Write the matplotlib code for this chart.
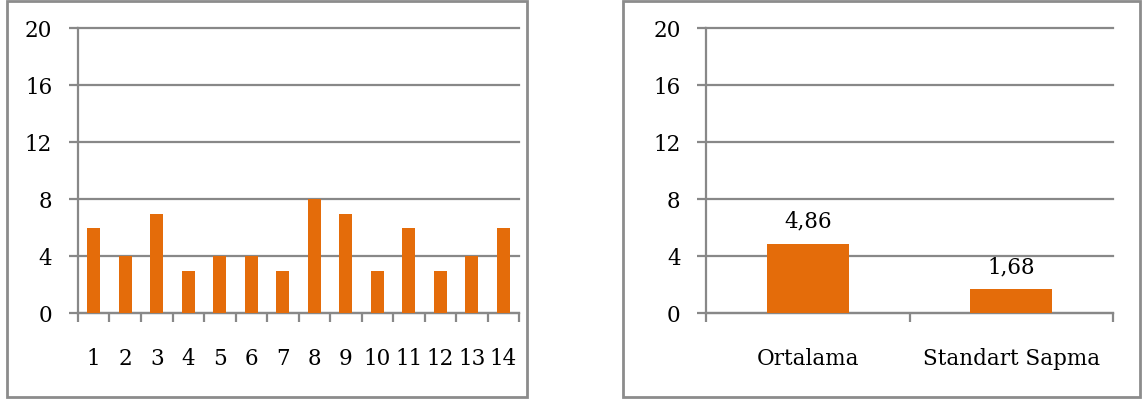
import matplotlib
matplotlib.use("Agg")
import matplotlib.pyplot as plt
from matplotlib.patches import Rectangle
import numpy as np

# Scores per item and their summary statistics
items = [str(i) for i in range(1, 15)]
scores = [6, 4, 7, 3, 4, 4, 3, 8, 7, 3, 6, 3, 4, 6]
stat_names = ["Ortalama", "Standart Sapma"]
stat_values = [4.86, 1.68]
stat_labels = ["4,86", "1,68"]
y_ticks = [0, 4, 8, 12, 16, 20]

BAR = "#E46C0A"
GRID = "#888888"
FONT = "DejaVu Serif"
FS = 15.5

plt.rcParams["font.family"] = FONT

W, H = 1142, 405
fig = plt.figure(figsize=(W / 100, H / 100), dpi=100)


def px_axes(x0, x1, y_top, y_bot):
    return fig.add_axes([x0 / W, 1 - y_bot / H, (x1 - x0) / W, (y_bot - y_top) / H])


def frame(x0, x1, y0, y1):
    fig.patches.append(Rectangle((x0 / W, 1 - y1 / H), (x1 - x0) / W, (y1 - y0) / H,
                                 transform=fig.transFigure, fill=False,
                                 edgecolor="#8c8c8c", linewidth=2.0, zorder=0))


def style(ax, n):
    ax.set_ylim(0, 20)
    ax.set_xlim(-0.5, n - 0.5)
    ax.set_yticks(y_ticks)
    ax.set_yticklabels([str(v) for v in y_ticks], fontsize=FS)
    ax.yaxis.grid(True, color=GRID, linewidth=1.6)
    for gl in ax.get_ygridlines():
        gl.set_clip_on(False)
    ax.set_axisbelow(True)
    for s in ("top", "right"):
        ax.spines[s].set_visible(False)
    for s in ("left", "bottom"):
        ax.spines[s].set_color(GRID)
        ax.spines[s].set_linewidth(1.6)
    ax.tick_params(axis="y", direction="out", length=6.5, width=1.6, color=GRID, pad=12)
    # category boundaries carry the tick marks, centres carry the labels
    ax.set_xticks(np.arange(-0.5, n, 1.0))
    ax.set_xticklabels([])
    ax.tick_params(axis="x", which="major", direction="out", length=6.5, width=1.6, color=GRID)
    ax.set_xticks(np.arange(n), minor=True)
    ax.tick_params(axis="x", which="minor", length=0, pad=25, labelsize=FS)


frame(7, 527, 1, 397)
frame(623, 1140, 1, 397)

ax1 = px_axes(78, 519, 28.3, 313.3)
ax1.bar(np.arange(len(items)), scores, width=0.41, color=BAR, zorder=3)
style(ax1, len(items))
ax1.set_xticklabels(items, minor=True)

ax2 = px_axes(706.3, 1112.7, 28.3, 313.3)
bars = ax2.bar(np.arange(len(stat_names)), stat_values, width=0.40, color=BAR, zorder=3)
style(ax2, len(stat_names))
ax2.set_xticklabels(stat_names, minor=True)
for b, v, lab in zip(bars, stat_values, stat_labels):
    ax2.annotate(lab, (b.get_x() + b.get_width() / 2, v), xytext=(0, 8),
                 textcoords="offset points", ha="center", va="bottom", fontsize=FS)

fig.savefig("out.png", dpi=100)
